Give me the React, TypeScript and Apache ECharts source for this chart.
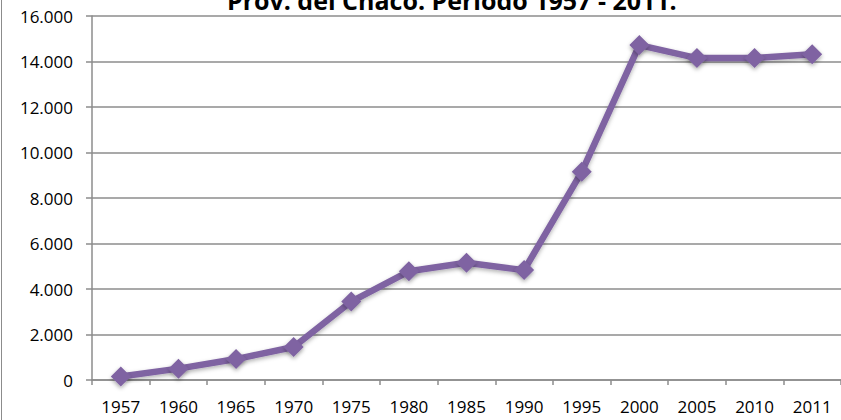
import React, { useEffect, useRef } from "react";
import * as echarts from "echarts";

const years = ["1957", "1960", "1965", "1970", "1975", "1980", "1985", "1990", "1995", "2000", "2005", "2010", "2011"];
const values = [150, 500, 920, 1450, 3450, 4780, 5150, 4830, 9150, 14720, 14150, 14150, 14320];
const titleText = "Prov. del Chaco. Período 1957 - 2011.";

export default function App() {
  const ref = useRef<HTMLDivElement>(null);
  useEffect(() => {
    if (!ref.current) return;
    const chart = echarts.init(ref.current, undefined, { renderer: "svg" });
    chart.setOption({
      animation: false,
      backgroundColor: "#ffffff",
      title: {
        text: titleText,
        left: 227,
        top: -13,
        padding: 0,
        textStyle: { fontFamily: "Open Sans", fontSize: 25, fontWeight: "bold", color: "#000000" },
      },
      graphic: [
        {
          type: "line",
          shape: { x1: 1.5, y1: 0, x2: 1.5, y2: 420 },
          style: { stroke: "#8c8c8c", lineWidth: 1 },
          z: 100,
        },
      ],
      grid: { left: 92, right: 0, top: 16, bottom: 40, containLabel: false },
      xAxis: {
        type: "category",
        data: years,
        boundaryGap: true,
        axisLine: { show: true, lineStyle: { color: "#8c8c8c", width: 1.5 } },
        axisTick: { show: true, length: 5, lineStyle: { color: "#8c8c8c", width: 1.5 } },
        axisLabel: { margin: 18, color: "#000000", fontFamily: "Open Sans", fontSize: 17, interval: 0 },
        splitLine: { show: false },
      },
      yAxis: {
        type: "value",
        min: 0,
        max: 16000,
        interval: 2000,
        axisLine: { show: true, lineStyle: { color: "#8c8c8c", width: 1.5 } },
        axisTick: { show: true, length: 6, lineStyle: { color: "#8c8c8c", width: 1.5 } },
        axisLabel: {
          margin: 19,
          color: "#000000",
          fontFamily: "Open Sans",
          fontSize: 17,
          formatter: (v: number) => v.toLocaleString("de-DE", { useGrouping: true }).replace(/,/g, "."),
        },
        splitLine: { show: true, lineStyle: { color: "#8c8c8c", width: 1.5 } },
      },
      series: [
        {
          type: "line",
          data: values,
          symbol: "diamond",
          symbolSize: 20,
          color: "#7f63a2",
          lineStyle: {
            color: "#7f63a2",
            width: 6.5,
            shadowColor: "rgba(0,0,0,0.3)",
            shadowBlur: 4,
            shadowOffsetY: 2,
          },
          itemStyle: {
            color: "#7f63a2",
            borderWidth: 0,
            shadowColor: "rgba(0,0,0,0.35)",
            shadowBlur: 4,
            shadowOffsetY: 2,
          },
        },
      ],
    });
    return () => chart.dispose();
  }, []);
  return (
    <div
      ref={ref}
      style={{ position: "absolute", left: 0, top: 0, width: 841, height: 420 }}
    />
  );
}
